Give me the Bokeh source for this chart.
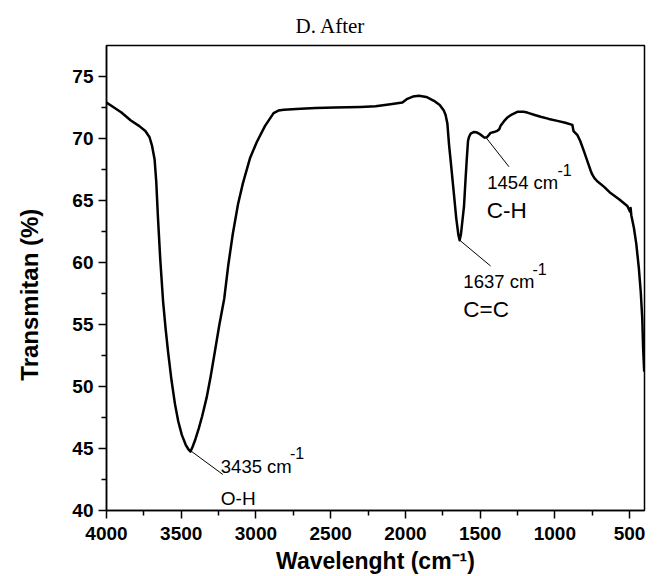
from bokeh.plotting import figure
from bokeh.models import Range1d, FixedTicker, Label, Title
from bokeh.embed import file_html
from bokeh.resources import INLINE

# ---- data ----
wavenumber = [4000, 3950, 3900, 3837, 3780, 3740, 3712, 3695, 3678, 3667, 3656, 3640,
              3621, 3604, 3587, 3565, 3542, 3520, 3496, 3470, 3450, 3438, 3425, 3405,
              3383, 3360, 3330, 3303, 3275, 3246, 3212, 3185, 3155, 3120, 3087, 3040, 2995,
              2940, 2882, 2850, 2813, 2700, 2600, 2472, 2300, 2200, 2100, 2020, 1987,
              1950, 1909, 1860, 1809, 1770, 1742, 1731, 1719, 1708, 1697, 1675, 1660,
              1645, 1637, 1628, 1619, 1608, 1597, 1590, 1581, 1575, 1563, 1541, 1520,
              1508, 1490, 1470, 1454, 1430, 1400, 1385, 1372, 1363, 1340, 1318, 1285,
              1251, 1210, 1184, 1140, 1095, 1040, 983, 930, 883, 875, 850, 830,
              806, 780, 760, 750, 735, 716, 670, 627, 570, 515, 497, 493,
              488, 471, 455, 438, 425, 415, 409, 402]
transmittance = [72.9, 72.5, 72.1, 71.45, 71.0, 70.6, 70.1, 69.4, 68.3, 66.5, 63.7, 60.2,
                 56.8, 54.6, 52.7, 50.5, 48.6, 47.2, 46.1, 45.3, 44.9, 44.75, 45.1, 45.75,
                 46.6, 47.6, 49.1, 50.8, 52.8, 54.9, 57.1, 59.8, 62.3, 64.7, 66.4, 68.4, 69.7,
                 71.0, 72.05, 72.25, 72.32, 72.4, 72.45, 72.5, 72.55, 72.6, 72.77, 72.9, 73.2,
                 73.38, 73.44, 73.35, 73.04, 72.7, 72.23, 71.9, 71.2, 69.5, 68.2, 65.5, 63.6,
                 62.2, 61.8, 62.3, 63.3, 64.5, 66.8, 68.2, 69.8, 70.1, 70.4, 70.53, 70.48,
                 70.4, 70.25, 70.07, 70.1, 70.45, 70.55, 70.62, 70.75, 71.02, 71.4, 71.69, 71.95,
                 72.15, 72.15, 72.09, 71.92, 71.75, 71.58, 71.42, 71.27, 71.1, 70.6, 70.3, 69.8,
                 69.0, 68.1, 67.4, 67.1, 66.8, 66.55, 66.1, 65.6, 65.1, 64.55, 64.1, 64.4,
                 63.8, 62.8, 61.5, 59.56, 57.6, 55.5, 53.0, 51.2]

x_major = [4000, 3500, 3000, 2500, 2000, 1500, 1000, 500]
x_minor = [3750, 3250, 2750, 2250, 1750, 1250, 750]
y_major = [40, 45, 50, 55, 60, 65, 70, 75]
y_minor = [42.5, 47.5, 52.5, 57.5, 62.5, 67.5, 72.5]

peak_wn = [3435, 1637, 1462]
peak_T = [44.8, 61.8, 70.1]
peak_text = ["3435 cm", "1637 cm", "1454 cm"]
bond_text = ["O-H", "C=C", "C-H"]

# annotation layout (data units)
lead_end_x = [3222, 1430, 1307]
lead_end_y = [42.91, 59.72, 67.72]
num_x = [3235, 1612, 1452]
num_y = [43.56, 58.45, 66.45]
sup_x = [2772, 1150, 982]
sup_y = [44.6, 59.45, 67.48]
bond_x = [3235, 1612, 1456]
bond_y = [40.97, 56.22, 64.17]
bond_size = ["19px", "22.5px", "22.5px"]

FONT = "Liberation Sans"
NBSP = "\u00a0"

p = figure(width=650, height=576, output_backend="svg", toolbar_location=None,
           x_range=Range1d(4000, 400), y_range=Range1d(40, 77.5),
           min_border_left=106, min_border_right=6, min_border_top=45, min_border_bottom=10)

p.add_layout(Title(text="D. After", align="left", offset=189, standoff=16,
                   text_font="Liberation Serif", text_font_size="21px",
                   text_font_style="normal", text_color="black"), "above")

p.xgrid.visible = False
p.ygrid.visible = False
p.background_fill_color = "white"
p.border_fill_color = "white"
p.outline_line_color = "black"
p.outline_line_width = 1.5
p.outline_line_alpha = 1.0

p.xaxis.ticker = FixedTicker(ticks=x_major, minor_ticks=x_minor)
p.yaxis.ticker = FixedTicker(ticks=y_major, minor_ticks=y_minor)

for ax in (p.xaxis[0], p.yaxis[0]):
    ax.axis_line_width = 1.5
    ax.axis_line_color = "black"
    ax.major_tick_line_width = 1.5
    ax.minor_tick_line_width = 1.5
    ax.major_tick_line_color = "black"
    ax.minor_tick_line_color = "black"
    ax.major_tick_out = 8
    ax.major_tick_in = 0
    ax.minor_tick_out = 5
    ax.minor_tick_in = 0
    ax.major_label_text_font = FONT
    ax.major_label_text_font_style = "bold"
    ax.major_label_text_font_size = "19px"
    ax.major_label_text_color = "black"
    ax.axis_label_text_font = FONT
    ax.axis_label_text_font_style = "bold"
    ax.axis_label_text_color = "black"

p.xaxis.axis_label = "Wavelenght (cm\u207b\u00b9)"
p.xaxis.axis_label_text_font_size = "23px"
p.yaxis.axis_label = "Transmitan (%)" + NBSP * 5
p.yaxis.axis_label_text_font_size = "24px"
p.xaxis.major_label_standoff = 8
p.xaxis.axis_label_standoff = 5
p.yaxis.major_label_standoff = 5
p.yaxis.axis_label_standoff = 26

p.line(wavenumber, transmittance, line_color="black", line_width=2.5, line_join="round")

p.segment(x0=peak_wn, y0=peak_T, x1=lead_end_x, y1=lead_end_y, line_color="black", line_width=1)

for i in range(len(peak_wn)):
    p.add_layout(Label(x=num_x[i], y=num_y[i], text=peak_text[i], text_font=FONT,
                       text_font_size="18.5px", text_color="black", text_baseline="alphabetic"))
    p.add_layout(Label(x=sup_x[i], y=sup_y[i], text="-1", text_font=FONT,
                       text_font_size="16px", text_color="black", text_baseline="alphabetic"))
    p.add_layout(Label(x=bond_x[i], y=bond_y[i], text=bond_text[i], text_font=FONT,
                       text_font_size=bond_size[i], text_color="black", text_baseline="alphabetic"))

open("out.html", "w").write(file_html(p, INLINE))
